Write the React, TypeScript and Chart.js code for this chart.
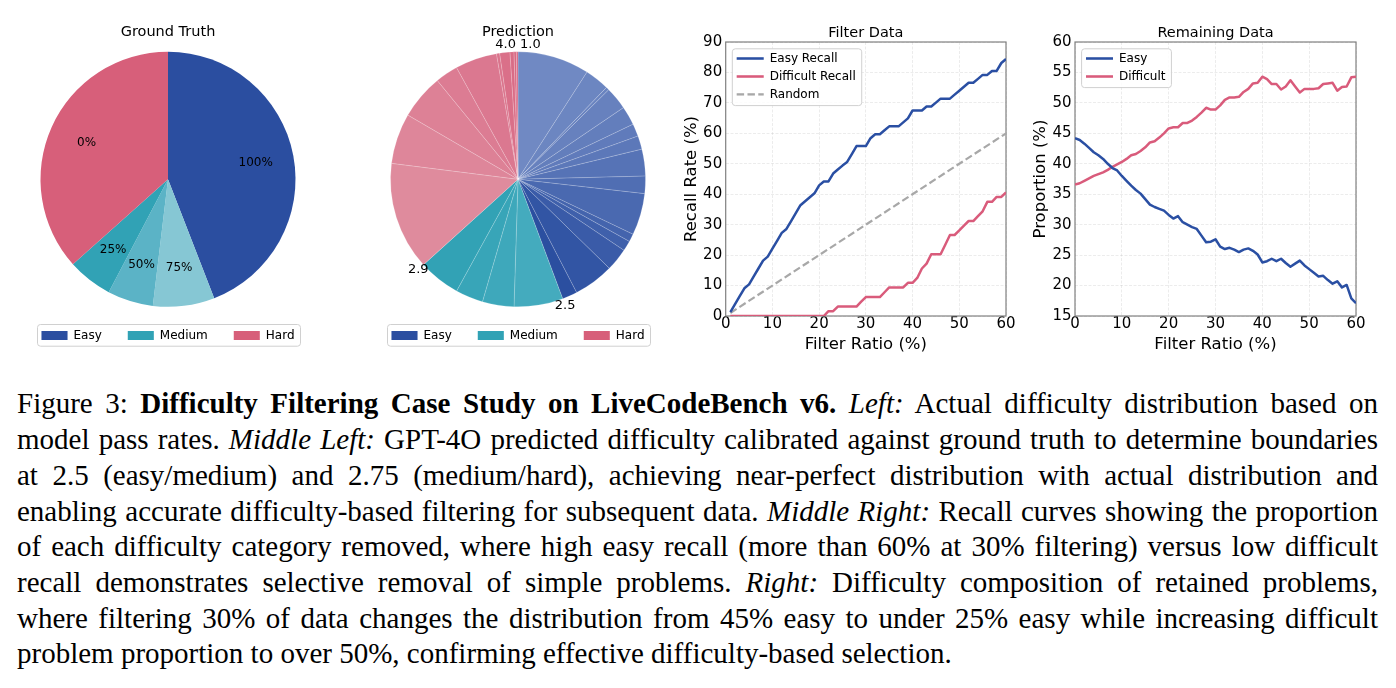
import React, { useEffect, useRef } from 'react';
import { Chart, registerables } from 'chart.js';

Chart.register(...registerables);

const SANS = "'DejaVu Sans', sans-serif";
Chart.defaults.font.family = SANS;
Chart.defaults.color = '#000';

// ---------------- shared legend of the two pies ----------------
const difficultyLevels = ['Easy', 'Medium', 'Hard'];
const difficultyColors = ['#2B4EA0', '#31A2B5', '#D75F7A'];

// ---------------- Ground Truth pie ----------------
const gtBuckets = ['Easy', 'Medium (75%)', 'Medium (50%)', 'Medium (25%)', 'Hard'];
const gtPassRateLabels = ['100%', '75%', '50%', '25%', '0%'];
const gtShares = [44.1, 7.8, 5.8, 5.7, 36.6];
const gtColors = ['#2B4EA0', '#86C7D4', '#5BB3C6', '#31A2B5', '#D75F7A'];

// ---------------- Prediction pie ----------------
const predBins = [
  'Easy 1', 'Easy 2', 'Easy 3', 'Easy 4', 'Easy 5', 'Easy 6', 'Easy 7', 'Easy 8',
  'Easy 9', 'Easy 10', 'Easy 11', 'Easy 12', 'Easy 13', 'Easy 14', 'Easy 15',
  'Medium 1', 'Medium 2', 'Medium 3', 'Medium 4',
  'Hard 1', 'Hard 2', 'Hard 3', 'Hard 4', 'Hard 5', 'Hard 6', 'Hard 7', 'Hard 8', 'Hard 9', 'Hard 10',
];
const predShares = [
  9.1, 3.1, 0.4, 2.9, 2.4, 1.6, 1.7, 3.4, 2.2, 5.3, 1.0, 1.3, 2.9, 5.1, 1.9,
  6.2, 4.0, 3.5, 5.3,
  13.7, 6.4, 5.7, 2.9, 5.3, 0.4, 1.3, 0.5, 0.3, 0.2,
];
const predColors = [
  '#7089c3', '#6c86c1', '#6a84c0', '#6781be', '#637ebc', '#607bbb', '#5c78b9', '#5673b6',
  '#506eb3', '#4a69b0', '#4464ad', '#3f60ab', '#3a5ba8', '#3255a4', '#2b4fa0',
  '#44abbe', '#3ea8bb', '#38a5b8', '#32a2b5',
  '#df8b9d', '#de869a', '#dd8196', '#dc7c93', '#db7890', '#da748c', '#da7089', '#d96c86', '#d86883', '#d86480',
];
const predBoundaryLabels = [
  { text: '1.0', slice: 0, edge: 'start', align: 'left' },
  { text: '2.5', slice: 14, edge: 'end', align: 'center' },
  { text: '2.9', slice: 18, edge: 'end', align: 'center' },
  { text: '4.0', slice: 28, edge: 'end', align: 'right' },
];

// ---------------- Filter Data ----------------
const recallFilterRatio = [
  1, 2, 3, 4, 5, 6, 7, 8, 9, 10, 11, 12, 13, 14, 15, 16, 17, 18, 19, 20,
  21, 22, 23, 24, 25, 26, 27, 28, 29, 30, 31, 32, 33, 34, 35, 36, 37, 38, 39, 40,
  41, 42, 43, 44, 45, 46, 47, 48, 49, 50, 51, 52, 53, 54, 55, 56, 57, 58, 59, 60,
];
const easyRecall = [
  1.3, 3.9, 6.5, 9.1, 10.4, 13.0, 15.6, 18.2, 19.5, 22.1, 24.7, 27.3, 28.6, 31.2, 33.8, 36.4, 37.7, 39.0, 40.3, 42.9,
  44.2, 44.2, 46.8, 48.1, 49.4, 50.6, 53.2, 55.8, 55.8, 55.8, 58.4, 59.7, 59.7, 61.0, 62.3, 62.3, 62.3, 63.6, 64.9, 67.5,
  67.5, 67.5, 68.8, 68.8, 70.1, 71.4, 71.4, 71.4, 72.7, 74.0, 75.3, 76.6, 76.6, 77.9, 79.2, 79.2, 80.5, 80.5, 83.1, 84.4,
];
const difficultRecall = [
  0, 0, 0, 0, 0, 0, 0, 0, 0, 0, 0, 0, 0, 0, 0, 0, 0, 0, 0, 0,
  0, 1.6, 1.6, 3.1, 3.1, 3.1, 3.1, 3.1, 4.7, 6.2, 6.2, 6.2, 6.2, 7.8, 9.4, 9.4, 9.4, 9.4, 10.9, 10.9,
  12.5, 15.6, 17.2, 20.3, 20.3, 20.3, 23.4, 26.6, 26.6, 28.1, 29.7, 31.2, 31.2, 32.8, 34.4, 37.5, 37.5, 39.1, 39.1, 40.6,
];
const randomFilterRatio = [1, 60];
const randomRecall = [1, 60];

// ---------------- Remaining Data ----------------
const remainingFilterRatio = [
  0, 1, 2, 3, 4, 5, 6, 7, 8, 9, 10, 11, 12, 13, 14, 15, 16, 17, 18, 19, 20,
  21, 22, 23, 24, 25, 26, 27, 28, 29, 30, 31, 32, 33, 34, 35, 36, 37, 38, 39, 40,
  41, 42, 43, 44, 45, 46, 47, 48, 49, 50, 51, 52, 53, 54, 55, 56, 57, 58, 59, 60,
];
const remainingEasy = [
  44.2, 43.9, 43.3, 42.6, 41.9, 41.4, 40.8, 40.0, 39.3, 38.9, 38.0,
  37.2, 36.4, 35.7, 35.1, 34.2, 33.3, 32.9, 32.6, 32.3, 31.6,
  31.0, 31.4, 30.4, 30.0, 29.6, 29.3, 28.2, 27.1, 27.2, 27.6,
  26.4, 26.0, 26.2, 25.9, 25.5, 25.9, 26.1, 25.7, 25.1, 23.8,
  24.0, 24.4, 24.0, 24.4, 23.7, 23.1, 23.6, 24.1, 23.3, 22.7,
  22.1, 21.5, 21.6, 20.9, 20.3, 20.7, 19.7, 20.1, 17.9, 17.1,
];
const remainingDifficult = [
  36.6, 36.8, 37.2, 37.6, 38.0, 38.3, 38.6, 39.0, 39.5, 39.9, 40.3,
  40.8, 41.4, 41.6, 42.1, 42.7, 43.5, 43.7, 44.3, 45.0, 45.8,
  46.0, 46.0, 46.7, 46.7, 47.1, 47.7, 48.4, 49.2, 48.9, 48.9,
  49.6, 50.5, 50.9, 50.9, 51.0, 51.8, 52.3, 53.2, 53.3, 54.3,
  53.9, 53.1, 53.1, 52.2, 52.7, 53.7, 52.7, 51.7, 52.3, 52.3,
  52.3, 52.4, 53.1, 53.2, 53.3, 52.0, 52.6, 52.7, 54.2, 54.3,
];

// ---------------- styles ----------------
const BLUE = '#2A4FA3';
const PINK = '#D95B7B';
const GREY = '#A8A8A8';
const GRID_COLOR = 'rgba(176,176,176,0.3)';
const FRAME_COLOR = '#808080';
const LINE_W = 2.5;

// ---------------- plugins ----------------
const legendFramePlugin = {
  id: 'legendFrame',
  afterLayout(chart: any, _a: any, opts: any) {
    if (!opts || !opts.inside) return;
    const lg = chart.legend;
    const ca = chart.chartArea;
    lg.left = ca.left + opts.dx;
    lg.top = ca.top + opts.dy;
    lg.right = lg.left + lg.width;
    lg.bottom = lg.top + lg.height;
  },
  afterDraw(chart: any, _a: any, opts: any) {
    const lg = chart.legend;
    const boxes = lg && lg.legendHitBoxes;
    if (!boxes || !boxes.length) return;
    const ctx = chart.ctx;
    const l = Math.min(...boxes.map((b: any) => b.left)) - opts.padLeft;
    const r = Math.max(...boxes.map((b: any) => b.left + b.width)) + opts.padRight;
    const t = Math.min(...boxes.map((b: any) => b.top)) - opts.padTop;
    const btm = Math.max(...boxes.map((b: any) => b.top + b.height)) + opts.padBottom;
    ctx.save();
    ctx.beginPath();
    if ((ctx as any).roundRect) (ctx as any).roundRect(l, t, r - l, btm - t, 3);
    else ctx.rect(l, t, r - l, btm - t);
    ctx.fillStyle = 'rgba(255,255,255,0.85)';
    ctx.fill();
    ctx.lineWidth = 1;
    ctx.strokeStyle = '#d0d0d0';
    ctx.stroke();
    ctx.restore();
    lg.draw();
  },
};

const axesFramePlugin = {
  id: 'axesFrame',
  beforeDatasetsDraw(chart: any) {
    const { ctx, chartArea: a } = chart;
    ctx.save();
    ctx.strokeStyle = FRAME_COLOR;
    ctx.lineWidth = 1.2;
    ctx.strokeRect(a.left, a.top, a.right - a.left, a.bottom - a.top);
    ctx.restore();
  },
};

const gtLabelPlugin = {
  id: 'gtLabels',
  afterDatasetsDraw(chart: any) {
    const ctx = chart.ctx;
    const meta = chart.getDatasetMeta(0);
    ctx.save();
    ctx.font = `12px ${SANS}`;
    ctx.fillStyle = '#000';
    ctx.textAlign = 'center';
    ctx.textBaseline = 'middle';
    meta.data.forEach((arc: any, i: number) => {
      const p = arc.getProps(['x', 'y', 'startAngle', 'endAngle', 'outerRadius'], true);
      const mid = (p.startAngle + p.endAngle) / 2;
      const r = p.outerRadius * 0.7;
      ctx.fillText(gtPassRateLabels[i], p.x + Math.cos(mid) * r, p.y + Math.sin(mid) * r);
    });
    ctx.restore();
  },
};

const predLabelPlugin = {
  id: 'predLabels',
  afterDatasetsDraw(chart: any) {
    const ctx = chart.ctx;
    const meta = chart.getDatasetMeta(0);
    ctx.save();
    ctx.font = `13px ${SANS}`;
    ctx.fillStyle = '#000';
    ctx.textBaseline = 'middle';
    predBoundaryLabels.forEach((lab) => {
      const arc = meta.data[lab.slice];
      const p = arc.getProps(['x', 'y', 'startAngle', 'endAngle', 'outerRadius'], true);
      const ang = lab.edge === 'start' ? p.startAngle : p.endAngle;
      const r = p.outerRadius + 7;
      let px = p.x + Math.cos(ang) * r;
      const py = p.y + Math.sin(ang) * r;
      if (lab.align === 'left') px += 2;
      if (lab.align === 'right') px -= 2;
      ctx.textAlign = lab.align as CanvasTextAlign;
      ctx.fillText(lab.text, px, py);
    });
    ctx.restore();
  },
};

// ---------------- configs ----------------
function pieLegendLabels() {
  return difficultyLevels.map((t, i) => ({
    text: t,
    fillStyle: difficultyColors[i],
    strokeStyle: difficultyColors[i],
    lineWidth: 0,
    hidden: false,
    index: i,
    fontColor: '#000',
  }));
}

function pieConfig(title: string, labels: string[], values: number[], colors: string[], border: number, extra: any): any {
  return {
    type: 'pie',
    data: {
      labels,
      datasets: [{
        data: values,
        backgroundColor: colors,
        borderWidth: border,
        borderColor: 'rgba(255,255,255,0.35)',
        radius: 127.5,
      }],
    },
    options: {
      animation: false,
      responsive: false,
      devicePixelRatio: 1,
      events: [],
      layout: { padding: { top: 0, bottom: 0.5, left: 0, right: 0 } },
      plugins: {
        title: {
          display: true,
          text: title,
          color: '#000',
          font: { size: 14.5, weight: 'normal', family: SANS },
          padding: { top: 10, bottom: 13.7 },
        },
        legend: {
          position: 'bottom',
          align: 'center',
          labels: {
            boxWidth: 26,
            boxHeight: 9,
            padding: 26,
            color: '#000',
            font: { size: 12, family: SANS },
            generateLabels: pieLegendLabels,
          },
        },
        tooltip: { enabled: false },
        legendFrame: { inside: false, padLeft: 4, padRight: 6, padTop: 5, padBottom: 4.7 },
      },
    },
    plugins: [legendFramePlugin, extra],
  };
}

const makeGroundTruth = () => pieConfig('Ground Truth', gtBuckets, gtShares, gtColors, 0, gtLabelPlugin);
const makePrediction = () => pieConfig('Prediction', predBins, predShares, predColors, 0.5, predLabelPlugin);

function lineLegendLabels(chart: any) {
  return chart.data.datasets.map((ds: any, i: number) => ({
    text: ds.label,
    fillStyle: ds.borderColor,
    strokeStyle: ds.borderColor,
    lineWidth: ds.borderWidth,
    lineDash: ds.borderDash || [],
    pointStyle: 'line',
    hidden: false,
    datasetIndex: i,
    fontColor: '#000',
  }));
}

function series(label: string, xs: number[], ys: number[], color: string, width: number, dash?: number[]) {
  return {
    label,
    data: xs.map((x, i) => ({ x, y: ys[i] })),
    borderColor: color,
    backgroundColor: color,
    borderWidth: width,
    borderDash: dash || [],
    borderJoinStyle: 'round',
    pointRadius: 0,
    tension: 0,
    fill: false,
  };
}

function lineConfig(title: string, yTitle: string, yMin: number, yMax: number, yStep: number,
  yWidth: number, padRight: number, datasets: any[]): any {
  return {
    type: 'line',
    data: { datasets },
    options: {
      animation: false,
      responsive: false,
      devicePixelRatio: 1,
      events: [],
      layout: { padding: { top: 0, bottom: 0, left: 0, right: padRight } },
      scales: {
        x: {
          type: 'linear',
          min: 0,
          max: 60,
          ticks: { stepSize: 10, color: '#000', font: { size: 15, lineHeight: 1 }, padding: 1 },
          grid: { color: GRID_COLOR, lineWidth: 0.8, drawTicks: false },
          border: { display: false, dash: [3, 1.5] },
          title: { display: true, text: 'Filter Ratio (%)', color: '#000', font: { size: 16.5 }, padding: { top: 0, bottom: 5.6 } },
          afterFit: (s: any) => { s.height = 44; },
        },
        y: {
          type: 'linear',
          min: yMin,
          max: yMax,
          ticks: { stepSize: yStep, color: '#000', font: { size: 15 }, padding: 3.5 },
          grid: { color: GRID_COLOR, lineWidth: 0.8, drawTicks: false },
          border: { display: false, dash: [3, 1.5] },
          title: { display: true, text: yTitle, color: '#000', font: { size: 16.5 }, padding: { top: 13.8, bottom: 0 } },
          afterFit: (s: any) => { s.width = yWidth; },
        },
      },
      plugins: {
        title: {
          display: true,
          text: title,
          color: '#000',
          fullSize: false,
          font: { size: 14.5, weight: 'normal', family: SANS },
          padding: { top: 10.1, bottom: 0.5 },
        },
        legend: {
          position: 'chartArea',
          align: 'start',
          labels: {
            usePointStyle: true,
            pointStyleWidth: 27,
            padding: 6,
            color: '#000',
            font: { size: 12, family: SANS },
            generateLabels: lineLegendLabels,
          },
        },
        tooltip: { enabled: false },
        legendFrame: { inside: true, dx: 5, dy: 4.4, padLeft: 4.4, padRight: 6, padTop: 3.6, padBottom: 5.2 },
      },
    },
    plugins: [axesFramePlugin, legendFramePlugin],
  };
}

const makeFilterData = () => lineConfig('Filter Data', 'Recall Rate (%)', 0, 90, 10, 57.7, 14, [
  series('Easy Recall', recallFilterRatio, easyRecall, BLUE, LINE_W),
  series('Difficult Recall', recallFilterRatio, difficultRecall, PINK, LINE_W),
  series('Random', randomFilterRatio, randomRecall, GREY, 2.2, [7.4, 3.4]),
]);

const makeRemainingData = () => lineConfig('Remaining Data', 'Proportion (%)', 15, 60, 5, 58, 13, [
  series('Easy', remainingFilterRatio, remainingEasy, BLUE, LINE_W),
  series('Difficult', remainingFilterRatio, remainingDifficult, PINK, LINE_W),
]);

// ---------------- caption ----------------
type Seg = [number, string]; // 0 normal, 1 bold, 2 italic
const captionLines: Seg[][] = [
  [[0, 'Figure 3: '], [1, 'Difficulty Filtering Case Study on LiveCodeBench v6.'], [0, ' '], [2, 'Left:'], [0, ' Actual difficulty distribution based on']],
  [[0, 'model pass rates. '], [2, 'Middle Left:'], [0, ' GPT-4O predicted difficulty calibrated against ground truth to determine boundaries']],
  [[0, 'at 2.5 (easy/medium) and 2.75 (medium/hard), achieving near-perfect distribution with actual distribution and']],
  [[0, 'enabling accurate difficulty-based filtering for subsequent data. '], [2, 'Middle Right:'], [0, ' Recall curves showing the proportion']],
  [[0, 'of each difficulty category removed, where high easy recall (more than 60% at 30% filtering) versus low difficult']],
  [[0, 'recall demonstrates selective removal of simple problems. '], [2, 'Right:'], [0, ' Difficulty composition of retained problems,']],
  [[0, 'where filtering 30% of data changes the distribution from 45% easy to under 25% easy while increasing difficult']],
  [[0, 'problem proportion to over 50%, confirming effective difficulty-based selection.']],
];

function ChartBox({ make, left, top, width, height }: { make: () => any; left: number; top: number; width: number; height: number }) {
  const ref = useRef<HTMLCanvasElement>(null);
  useEffect(() => {
    const chart = new Chart(ref.current as HTMLCanvasElement, make());
    return () => chart.destroy();
  }, [make]);
  return (
    <canvas
      ref={ref}
      width={width}
      height={height}
      style={{ position: 'absolute', left, top, width, height }}
    />
  );
}

export default function App() {
  return (
    <div style={{ position: 'absolute', left: 0, top: 0, width: 1396, height: 688, overflow: 'hidden', background: '#fff' }}>
      <ChartBox make={makeGroundTruth} left={8} top={14} width={320} height={338} />
      <ChartBox make={makePrediction} left={358} top={14} width={320} height={338} />
      <ChartBox make={makeFilterData} left={668} top={14} width={352} height={346} />
      <ChartBox make={makeRemainingData} left={1017} top={14} width={352} height={346} />
      <div
        style={{
          position: 'absolute',
          left: 17,
          top: 386.4,
          width: 1361,
          fontFamily: "'Liberation Serif', 'Times New Roman', serif",
          fontSize: 29,
          lineHeight: '35.7px',
          color: '#000',
        }}
      >
        {captionLines.map((line, li) => (
          <div
            key={li}
            style={{
              textAlign: li < captionLines.length - 1 ? 'justify' : 'left',
              textAlignLast: li < captionLines.length - 1 ? 'justify' : 'left',
            }}
          >
            {line.map(([kind, text], si) => (
              <span
                key={si}
                style={{ fontWeight: kind === 1 ? 'bold' : 'normal', fontStyle: kind === 2 ? 'italic' : 'normal' }}
              >
                {text}
              </span>
            ))}
          </div>
        ))}
      </div>
    </div>
  );
}
